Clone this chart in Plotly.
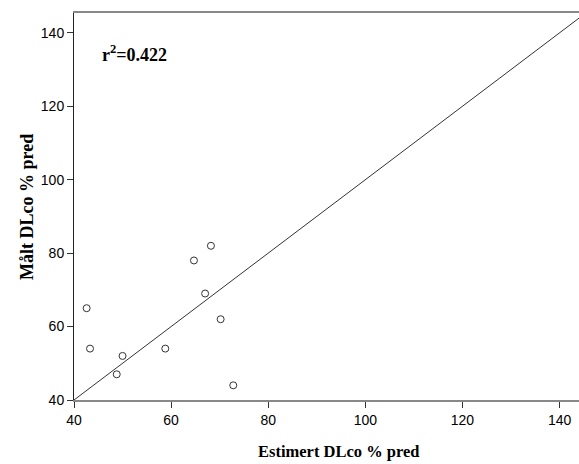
import plotly.graph_objects as go

estimert = [42.6, 43.3, 50.0, 48.8, 58.8, 64.7, 68.2, 67.0, 70.2, 72.8]
maalt = [65, 54, 52, 47, 54, 78, 82, 69, 62, 44]
ref_line = [40, 144]
x_ticks = [40, 60, 80, 100, 120, 140]
y_ticks = [40, 60, 80, 100, 120, 140]

W, H = 579, 464
L, R, T, B = 74, 0, 13, 64
PW, PH = W - L - R, H - T - B

def px(xp):
    return (xp - L) / PW

def py(yp):
    return (H - B - yp) / PH

fig = go.Figure()
fig.add_trace(go.Scatter(x=ref_line, y=ref_line, mode="lines",
                         line=dict(color="#333333", width=1), hoverinfo="skip"))
fig.add_trace(go.Scatter(x=estimert, y=maalt, mode="markers",
                         marker=dict(symbol="circle-open", size=7,
                                     color="#333333", line=dict(width=1))))

fig.add_annotation(x=px(100), y=py(53), xref="paper", yref="paper", xanchor="left", yanchor="middle",
                   text="<b>r<sup>2</sup>=0.422</b>", showarrow=False,
                   font=dict(family="Liberation Serif", size=18, color="black"))
fig.add_annotation(x=px(338), y=py(451), xref="paper", yref="paper", xanchor="center", yanchor="middle",
                   text="<b>Estimert DLco % pred</b>", showarrow=False,
                   font=dict(family="Liberation Serif", size=16.5, color="black"))
fig.add_annotation(x=px(27), y=py(207), xref="paper", yref="paper", xanchor="center", yanchor="middle",
                   text="<b>Målt DLco % pred</b>", showarrow=False, textangle=-90,
                   font=dict(family="Liberation Serif", size=18, color="black"))

fig.update_layout(
    width=W, height=H, showlegend=False,
    plot_bgcolor="white", paper_bgcolor="white",
    margin=dict(l=L, r=R, t=T, b=B, autoexpand=False),
    xaxis=dict(range=[40, 144], tickvals=x_ticks, ticks="outside", ticklen=6,
               tickcolor="#333333", showgrid=False, zeroline=False, automargin=False,
               showline=True, linecolor="#888888", linewidth=2, mirror=True,
               tickfont=dict(family="Liberation Sans", size=14, color="black")),
    yaxis=dict(range=[40, 145.4], tickvals=y_ticks, ticks="outside", ticklen=6,
               tickcolor="#333333", showgrid=False, zeroline=False, automargin=False,
               showline=True, linecolor="#222222", linewidth=1,
               tickfont=dict(family="Liberation Sans", size=14, color="black")),
)

fig.write_html("out.html", config={"displayModeBar": False},
               post_script="document.body.style.margin='0';document.body.style.overflow='hidden';")
